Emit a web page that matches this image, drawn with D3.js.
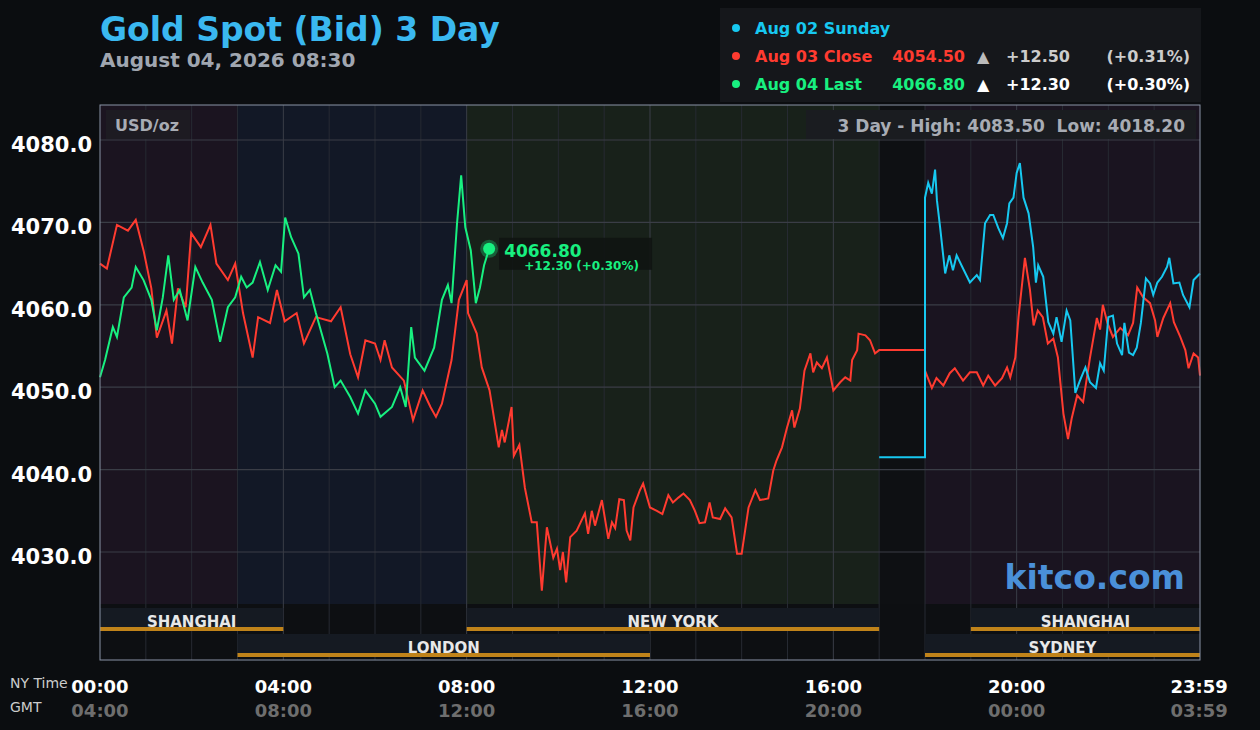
<!DOCTYPE html>
<html><head><meta charset="utf-8">
<script src="https://cdn.jsdelivr.net/npm/d3@7"></script>
<style>
body{margin:0;background:#0b0d10;font-family:"DejaVu Sans",sans-serif;}
text{white-space:pre;}
</style></head>
<body><svg id="chart" width="1260" height="730"></svg>
<script>
// prix (heure NY, USD/oz)
const redHours = [0,0.15,0.37,0.61,0.78,0.95,1.12,1.24,1.45,1.57,1.7,1.87,1.99,2.2,2.41,2.54,2.79,2.95,3.12,3.33,3.45,3.71,3.86,4.03,4.29,4.45,4.71,5.04,5.25,5.46,5.63,5.79,6.0,6.12,6.21,6.37,6.63,6.83,7.04,7.21,7.33,7.46,7.67,7.83,8.0,8.03,8.22,8.33,8.5,8.7,8.77,8.83,8.98,9.03,9.15,9.27,9.42,9.53,9.64,9.75,9.89,9.97,10.04,10.1,10.17,10.26,10.4,10.58,10.65,10.73,10.8,10.95,11.09,11.17,11.24,11.33,11.43,11.49,11.57,11.64,11.78,11.85,12.0,12.15,12.27,12.4,12.5,12.62,12.73,12.87,12.98,13.08,13.2,13.3,13.37,13.53,13.64,13.78,13.9,14.0,14.15,14.3,14.4,14.58,14.69,14.76,14.88,14.99,15.1,15.15,15.27,15.37,15.5,15.56,15.64,15.75,15.86,16.0,16.15,16.26,16.37,16.41,16.52,16.55,16.7,16.8,16.91,17.0,18.0,18.0,18.15,18.25,18.4,18.54,18.65,18.83,18.98,19.13,19.27,19.38,19.53,19.68,19.79,19.86,19.97,20.04,20.18,20.29,20.37,20.46,20.57,20.68,20.8,20.9,21.02,21.12,21.2,21.32,21.45,21.6,21.75,21.82,21.88,21.98,22.1,22.26,22.43,22.54,22.63,22.76,22.91,23.02,23.07,23.2,23.35,23.43,23.57,23.68,23.75,23.86,23.96,24];
const redPrices = [4065,4064.4,4069.7,4069,4070.3,4066.6,4062,4056,4059.3,4055.3,4062,4059.7,4068.7,4067,4069.7,4065,4063,4065,4059,4053.6,4058.5,4057.8,4061.8,4058,4059,4055.3,4058.5,4058,4059.7,4054,4051.2,4055.7,4055.3,4053.3,4055.7,4052.4,4050.8,4046,4049.6,4047.6,4046.4,4048,4053.3,4060.6,4063,4059,4056.5,4052.4,4049.6,4042.7,4044.8,4043.3,4047.6,4041.7,4043,4037.8,4033.6,4033.6,4025.3,4033,4029.3,4030.4,4027.8,4030,4026.3,4031.8,4032.6,4034.7,4032.2,4035,4033.2,4036.3,4031.6,4033.6,4032.9,4036.4,4036.3,4032.6,4031.4,4035.4,4037.5,4038.3,4035.4,4035,4034.6,4036.9,4036,4036.6,4037.1,4036.3,4035,4033.5,4033.6,4036,4034.2,4034,4035.3,4034.2,4029.8,4029.8,4035.4,4037.5,4036.3,4036.5,4039.9,4041.1,4042.7,4045.1,4047.2,4045.1,4047.4,4052,4054.1,4051.8,4053,4052.3,4053.6,4049.6,4050.6,4051.2,4050.8,4053.3,4054.5,4056.5,4056.3,4055.7,4054.1,4054.5,4054.5,4052,4049.9,4051.1,4050.2,4051.7,4052.3,4050.8,4051.8,4051.8,4050.2,4051.4,4050.2,4051.1,4052.4,4051.2,4053.6,4058.5,4065.7,4061.8,4057.5,4059.3,4058.5,4055.3,4055.9,4053.6,4046.8,4043.7,4046.2,4049,4048.2,4053.6,4058.4,4057,4060,4057.8,4056.1,4057.2,4056.3,4057.8,4062.1,4060.9,4060.2,4058.1,4056.1,4058.4,4060.2,4057.9,4056.1,4054.5,4052.3,4054.1,4053.6,4051.4];

const greenHours = [0,0.11,0.28,0.37,0.52,0.69,0.78,0.95,1.12,1.24,1.37,1.49,1.61,1.74,1.91,2.08,2.24,2.44,2.62,2.79,2.95,3.08,3.2,3.33,3.49,3.66,3.83,3.95,4.04,4.17,4.33,4.45,4.58,4.71,4.96,5.12,5.25,5.46,5.63,5.79,6.0,6.12,6.37,6.55,6.67,6.79,6.87,7.08,7.29,7.46,7.59,7.67,7.79,7.88,7.97,8.09,8.2,8.29,8.38,8.49];
const greenPrices = [4051.2,4053.3,4057.3,4056.1,4060.9,4062.1,4064.6,4063,4060.6,4056.9,4060.9,4066,4060.6,4061.8,4058.1,4064.6,4062.7,4060.6,4055.5,4059.7,4060.9,4063.4,4062.1,4062.7,4065.2,4061.8,4064.8,4064,4070.6,4068.2,4066.2,4060.9,4061.8,4059,4054.1,4050,4050.8,4048.8,4046.8,4049.6,4048,4046.4,4047.6,4050,4047.6,4057.3,4053.6,4052,4054.8,4060.6,4062.4,4060.2,4069.9,4075.7,4069.4,4066.6,4060.2,4062.1,4064.8,4066.8];

const cyanHours = [17.0,18.0,18.0,18.07,18.15,18.22,18.26,18.33,18.44,18.53,18.61,18.69,18.83,18.98,19.13,19.2,19.31,19.42,19.49,19.6,19.7,19.79,19.84,19.93,20.0,20.07,20.15,20.26,20.36,20.42,20.47,20.58,20.69,20.8,20.87,20.98,21.09,21.17,21.28,21.38,21.5,21.6,21.73,21.82,21.9,22.0,22.1,22.19,22.3,22.35,22.45,22.54,22.62,22.71,22.82,22.91,22.98,23.07,23.17,23.28,23.33,23.42,23.55,23.63,23.77,23.86,24];
const cyanPrices = [4041.5,4041.5,4073,4074.8,4073.5,4076.4,4072.7,4069.4,4063.8,4066,4064.2,4066,4064.4,4062.7,4063.6,4063,4069.9,4070.9,4070.9,4069.3,4068.1,4069.9,4072.3,4073,4076,4077.2,4073,4071.1,4067,4062.7,4064.8,4063.4,4057.9,4056.5,4058.5,4055.5,4059.3,4058.1,4049.3,4050.8,4052.4,4050.6,4049.9,4052.9,4052,4058.5,4058.7,4055.3,4053.9,4057.8,4054.2,4053.9,4054.8,4057.8,4063.2,4062.6,4061.2,4062.7,4063.4,4064.6,4065.7,4062.6,4062.7,4061.2,4059.7,4063,4063.8];

const yTicks = [4030, 4040, 4050, 4060, 4070, 4080];
const nyTicks = ["00:00","04:00","08:00","12:00","16:00","20:00","23:59"];
const gmtTicks = ["04:00","08:00","12:00","16:00","20:00","00:00","03:59"];
const zones = [[0,3,"#1b1420"],[3,8,"#121826"],[8,17,"#18211a"],[17,18,"#0e1013"],[18,24,"#1a1420"]];
const sessions = [["SHANGHAI",0,4,0],["NEW YORK",8,17,0],["SHANGHAI",19,24,0],["LONDON",3,12,1],["SYDNEY",18,24,1]];
const legendRows = [
  {label:"Aug 02 Sunday", color:"#17c8f0"},
  {label:"Aug 03 Close", color:"#ff3b30", price:"4054.50", chg:"+12.50", pct:"(+0.31%)"},
  {label:"Aug 04 Last", color:"#18f080", price:"4066.80", chg:"+12.30", pct:"(+0.30%)"}
];

const svg = d3.select("#chart");
const x = d3.scaleLinear().domain([0, 24]).range([100, 1200]);
const y = d3.scaleLinear().domain([4030, 4080]).range([552, 140]);
const plotTop = 105, plotBottom = 604, plotEnd = 660;

// titre
svg.append("text").attr("x", 100).attr("y", 41).attr("fill", "#3ab8f0")
  .attr("font-size", 33).attr("font-weight", "bold").text("Gold Spot (Bid) 3 Day");
svg.append("text").attr("x", 100).attr("y", 67).attr("fill", "#a0a6b0")
  .attr("font-size", 20).attr("font-weight", "bold").text("August 04, 2026 08:30");

// légende
svg.append("rect").attr("x", 720).attr("y", 8).attr("width", 481).attr("height", 94).attr("fill", "#15171b");
legendRows.forEach((r, i) => {
  const ly = 34 + i * 28;
  svg.append("circle").attr("cx", 736).attr("cy", ly - 6).attr("r", 4).attr("fill", r.color);
  const g = svg.append("g").attr("font-size", 16).attr("font-weight", "bold");
  g.append("text").attr("x", 755).attr("y", ly).attr("fill", r.color).text(r.label);
  if (r.price) {
    g.append("text").attr("x", 965).attr("y", ly).attr("text-anchor", "end").attr("fill", r.color).text(r.price);
    g.append("text").attr("x", 977).attr("y", ly).attr("fill", i === 1 ? "#bbb" : "#fff").text("▲");
    g.append("text").attr("x", 1070).attr("y", ly).attr("text-anchor", "end").attr("fill", i === 1 ? "#ccc" : "#fff").text(r.chg);
    g.append("text").attr("x", 1190).attr("y", ly).attr("text-anchor", "end").attr("fill", i === 1 ? "#ccc" : "#fff").text(r.pct);
  }
});

// zones de fond
svg.selectAll("rect.zone").data(zones).join("rect").attr("class", "zone")
  .attr("x", d => x(d[0])).attr("width", d => x(d[1]) - x(d[0]))
  .attr("y", plotTop).attr("height", plotBottom - plotTop).attr("fill", d => d[2]);
svg.append("rect").attr("x", 100).attr("y", plotBottom).attr("width", 1100).attr("height", plotEnd - plotBottom).attr("fill", "#0d0f12");

// grille
svg.selectAll("line.vg").data(d3.range(1, 24)).join("line").attr("class", "vg")
  .attr("x1", d => x(d)).attr("x2", d => x(d)).attr("y1", plotTop).attr("y2", plotEnd)
  .attr("stroke", d => d % 4 === 0 ? "#3a3e48" : "#262a32").attr("stroke-width", 1);
svg.selectAll("line.hg").data(yTicks).join("line").attr("class", "hg")
  .attr("x1", 100).attr("x2", 1200).attr("y1", d => y(d)).attr("y2", d => y(d))
  .attr("stroke", "#3a3d46").attr("stroke-width", 1.2);

// sessions
sessions.forEach(s => {
  const sy = s[3] === 0 ? 608 : 634;
  svg.append("rect").attr("x", x(s[1])).attr("y", sy).attr("width", x(s[2]) - x(s[1])).attr("height", 22).attr("fill", "#151a22");
  svg.append("rect").attr("x", x(s[1])).attr("y", sy + 19).attr("width", x(s[2]) - x(s[1])).attr("height", 4).attr("fill", "#c0831a");
  svg.append("text").attr("x", (x(s[1]) + x(s[2])) / 2).attr("y", sy + 19).attr("text-anchor", "middle")
    .attr("fill", "#e8e8e8").attr("font-size", 15).attr("font-weight", "bold").text(s[0]);
});

// axe Y
svg.selectAll("text.yl").data(yTicks).join("text").attr("class", "yl")
  .attr("x", 92).attr("y", d => y(d) + 12).attr("text-anchor", "end")
  .attr("fill", "#fff").attr("font-size", 21).attr("font-weight", "bold").text(d => d.toFixed(1));

// boîtes d'info
svg.append("rect").attr("x", 106).attr("y", 110).attr("width", 84).attr("height", 29).attr("fill", "#1d1b22");
svg.append("text").attr("x", 115).attr("y", 131).attr("fill", "#a8acb4").attr("font-size", 16).attr("font-weight", "bold").text("USD/oz");
svg.append("rect").attr("x", 806).attr("y", 110).attr("width", 390).attr("height", 29).attr("fill", "#1a1c20");
svg.append("text").attr("x", 1185).attr("y", 132).attr("text-anchor", "end").attr("fill", "#a8acb4")
  .attr("font-size", 17).attr("font-weight", "bold").text("3 Day - High: 4083.50  Low: 4018.20");
svg.append("text").attr("x", 1185).attr("y", 589).attr("text-anchor", "end").attr("fill", "#4a90d9")
  .attr("font-size", 33).attr("font-weight", "bold").text("kitco.com");

// lignes
const line = d3.line().x(d => x(d[0])).y(d => y(d[1]));
const series = [
  [redHours, redPrices, "#ff3b30"],
  [cyanHours, cyanPrices, "#17c8f0"],
  [greenHours, greenPrices, "#18f080"]
];
series.forEach(([h, p, c]) => {
  svg.append("path").datum(h.map((v, i) => [v, p[i]])).attr("d", line)
    .attr("fill", "none").attr("stroke", c).attr("stroke-width", 2);
});

// dernier point
const lh = greenHours[greenHours.length - 1], lp = greenPrices[greenPrices.length - 1];
svg.append("circle").attr("cx", x(lh)).attr("cy", y(lp)).attr("r", 9).attr("fill", "#18f080").attr("opacity", 0.3);
svg.append("circle").attr("cx", x(lh)).attr("cy", y(lp)).attr("r", 6).attr("fill", "#18f080");
svg.append("rect").attr("x", x(lh) + 10).attr("y", y(lp) - 11).attr("width", 153).attr("height", 32).attr("fill", "#101412").attr("opacity", 0.9);
svg.append("text").attr("x", x(lh) + 15).attr("y", y(lp) + 8).attr("fill", "#18f080").attr("font-size", 17).attr("font-weight", "bold").text("4066.80");
svg.append("text").attr("x", x(lh) + 35).attr("y", y(lp) + 21).attr("fill", "#18f080").attr("font-size", 12).attr("font-weight", "bold").text("+12.30 (+0.30%)");

// cadre
svg.append("rect").attr("x", 100).attr("y", plotTop).attr("width", 1100).attr("height", plotEnd - plotTop)
  .attr("fill", "none").attr("stroke", "#8a93a6").attr("stroke-width", 1);

// axe X
const tickH = [0, 4, 8, 12, 16, 20, 23.983];
svg.append("text").attr("x", 10).attr("y", 688).attr("fill", "#ccc").attr("font-size", 14).text("NY Time");
svg.append("text").attr("x", 10).attr("y", 712).attr("fill", "#ccc").attr("font-size", 14).text("GMT");
svg.selectAll("text.nx").data(nyTicks).join("text").attr("class", "nx")
  .attr("x", (d, i) => x(tickH[i])).attr("y", 693).attr("text-anchor", "middle")
  .attr("fill", "#fff").attr("font-size", 18).attr("font-weight", "bold").text(d => d);
svg.selectAll("text.gx").data(gmtTicks).join("text").attr("class", "gx")
  .attr("x", (d, i) => x(tickH[i])).attr("y", 717).attr("text-anchor", "middle")
  .attr("fill", "#6e6e6e").attr("font-size", 18).attr("font-weight", "bold").text(d => d);
</script></body></html>
